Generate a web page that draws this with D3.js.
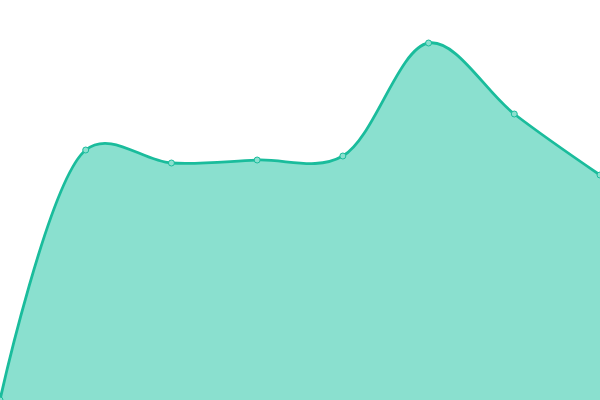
<!DOCTYPE html>
<html>
<head>
<meta charset="utf-8">
<script src="https://cdn.jsdelivr.net/npm/d3@7"></script>
<style>
  html, body { margin: 0; padding: 0; background: #fff; }
  svg { display: block; }
</style>
</head>
<body>
<div class="chart"></div>
<script>
const categories = [0, 1, 2, 3, 4, 5, 6, 7];
const values = [0, 250, 237, 240, 244, 357, 286, 225];

const width = 600;
const height = 400;

const svg = d3.select(".chart").append("svg")
    .attr("width", width)
    .attr("height", height);

const xScale = d3.scaleLinear()
    .domain([0, categories.length - 1])
    .range([0, width]);

const yScale = d3.scaleLinear()
    .domain([0, 400])
    .range([height, 0]);

const data = categories.map((c, i) => ({ c: c, v: values[i] }));

const curve = d3.curveCatmullRom.alpha(0.35);

const area = d3.area()
    .x(d => xScale(d.c))
    .y0(yScale(0))
    .y1(d => yScale(d.v))
    .curve(curve);

const line = d3.line()
    .x(d => xScale(d.c))
    .y(d => yScale(d.v))
    .curve(curve);

svg.append("path")
    .datum(data)
    .attr("fill", "#8ae0cf")
    .attr("d", area);

svg.append("path")
    .datum(data)
    .attr("fill", "none")
    .attr("stroke", "#1abc9c")
    .attr("stroke-width", 2.8)
    .attr("d", line);

svg.append("g")
    .selectAll("circle")
    .data(data)
    .enter()
    .append("circle")
    .attr("cx", d => xScale(d.c))
    .attr("cy", d => yScale(d.v))
    .attr("r", 3)
    .style("fill", "#8ae0cf")
    .style("stroke", "#1abc9c")
    .style("stroke-width", 1);
</script>
</body>
</html>
